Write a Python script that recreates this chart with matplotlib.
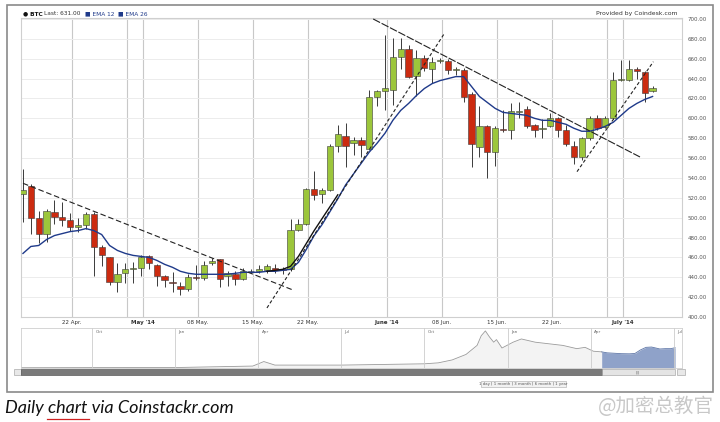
import numpy as np
import pandas as pd
import matplotlib
matplotlib.use('Agg')
import matplotlib.pyplot as plt
from matplotlib.patches import Rectangle

# daily BTC candles, 16 Apr 2014 .. 5 Jul 2014
start = pd.Timestamp('2014-04-16')
opens = [524, 532, 500, 484, 506, 501, 498, 491, 493, 504, 470, 460, 435, 444, 448, 449, 461, 452, 441, 435,
         431, 428, 440, 439, 454, 458, 441, 443, 438, 446, 446, 447, 449, 448, 448, 488, 494, 529, 524, 528,
         572, 582, 575, 578, 569, 621, 628, 629, 662, 670, 643, 661, 650, 658, 658, 649, 649, 624, 571, 592,
         566, 589, 588, 606, 609, 593, 589, 592, 600, 588, 572, 561, 580, 600, 591, 600, 639, 639, 650, 647, 628]
highs = [549, 534, 507, 509, 518, 516, 505, 500, 506, 506, 472, 460, 454, 454, 455, 462, 462, 453, 442, 445,
         435, 443, 452, 456, 459, 458, 446, 446, 449, 448, 452, 453, 453, 450, 499, 499, 530, 547, 530, 574,
         593, 595, 581, 581, 629, 629, 684, 681, 681, 674, 669, 664, 662, 661, 660, 652, 651, 627, 612, 593,
         592, 608, 615, 616, 612, 594, 599, 605, 601, 593, 577, 581, 602, 603, 602, 647, 659, 659, 652, 648, 633]
lows = [496, 484, 474, 476, 494, 492, 487, 486, 489, 441, 451, 432, 425, 434, 434, 441, 448, 431, 430, 425,
        422, 426, 437, 437, 452, 430, 431, 432, 437, 444, 444, 444, 444, 443, 446, 487, 493, 518, 515, 527,
        566, 551, 563, 561, 568, 612, 608, 613, 650, 641, 622, 648, 636, 656, 645, 644, 616, 551, 561, 540,
        552, 586, 579, 600, 590, 581, 580, 591, 581, 572, 554, 558, 578, 588, 590, 599, 638, 638, 640, 616, 627]
closes = [528, 500, 484, 507, 501, 498, 491, 493, 504, 470, 462, 435, 443, 448, 449, 460, 454, 441, 437, 434,
          428, 440, 439, 452, 456, 438, 444, 438, 446, 446.5, 448, 451, 447, 447.5, 488, 494, 529, 523, 528, 572,
          584, 572, 578, 573, 621, 628, 631, 662, 670, 642, 661, 651, 657, 659, 649, 650, 621, 574, 592, 566,
          590, 588, 607, 607, 592, 588, 589, 600, 588, 574, 561, 580, 600, 590, 600, 639, 640, 650, 648, 626, 631]
ema12 = [464, 471, 472, 478, 482, 484, 486, 487, 489, 487, 483, 472, 467, 464, 462, 461, 460, 457, 453, 450,
         446, 444, 443, 443, 443, 443, 443, 444, 445, 445, 445, 446, 446, 447, 448, 455, 468, 482, 493, 506,
         519, 533, 544, 555, 566, 575, 585, 598, 608, 615, 623, 630, 635, 638, 640, 642, 642, 632, 622, 616,
         610, 606, 605, 604, 603, 600, 598, 598, 596, 594, 590, 587, 587, 589, 592, 596, 603, 610, 615, 619, 622]
ema26_idx = [31, 32, 33, 34, 35, 36, 37, 38, 39, 40]
ema26 = [446, 447, 448, 451, 461, 474, 487, 499, 511, 523]

price_ticks = list(range(400, 701, 20))
grid_dates = ['2014-04-22', '2014-04-29', '2014-05-01', '2014-05-08', '2014-05-15', '2014-05-22',
              '2014-06-01', '2014-06-08', '2014-06-15', '2014-06-22', '2014-06-29', '2014-07-01']
grid_labels = ['22 Apr.', '', "May '14", '08 May.', '15 May.', '22 May.',
               "June '14", '08 Jun.', '15 Jun.', '22 Jun.', '', "July '14"]

# hand drawn trend lines: (day0, price0, day1, price1)
trend_lines = [(0, 534.6, 34.3, 427.2), (31.0, 409.1, 53.5, 684.9),
               (44.5, 700.0, 78.4, 561.1), (70.4, 546.3, 80.1, 657.0)]
trend_dash = [(5, 2.5), (3, 2), (7, 1.5), (3, 2)]

# navigator, months since Jul 2012
nav_month = [0.4, 3, 6, 8.8, 9.2, 9.6, 12, 15, 15.5, 16.0, 16.5, 16.9, 17.05, 17.2, 17.35, 17.5, 17.6, 17.8,
             18.2, 18.5, 19.0, 19.5, 20.0, 20.5, 20.8, 21.1, 21.4, 21.6, 21.9, 22.1, 22.4, 22.6, 22.8, 23.0,
             23.2, 23.5, 23.7, 23.9, 24.05]
nav_price = [8, 12, 14, 60, 200, 90, 90, 130, 160, 250, 420, 700, 1000, 1150, 960, 800, 880, 620,
             800, 900, 800, 750, 700, 600, 640, 520, 500, 470, 455, 445, 440, 450, 560, 640,
             650, 590, 600, 600, 630]
nav_ticks = [3, 6, 9, 12, 15, 18, 21, 24]
nav_labels = ['Oct', 'Jan', 'Apr', 'Jul', 'Oct', 'Jan', 'Apr', 'Jul']
sel_start, sel_end = 21.4, 24.05

green = '#9cc63b'
red = '#cc2b10'
W, H = 720, 422

fig = plt.figure(figsize=(W / 100, H / 100), dpi=100)

# page chrome in pixel coordinates
bg = fig.add_axes([0, 0, 1, 1])
bg.set_xlim(0, W)
bg.set_ylim(H, 0)
bg.axis('off')
bg.add_patch(Rectangle((7, 5), 706, 387, fill=False, ec='#8a8a8a', lw=1.2))
bg.add_patch(Rectangle((14, 369), 7, 6, fc='#e8e8e8', ec='#999999', lw=0.4))
bg.add_patch(Rectangle((21, 369), 581, 6, fc='#7a7a7a', ec='#444444', lw=0.4))
bg.add_patch(Rectangle((602, 369), 73, 6, fc='#e4e4e4', ec='#999999', lw=0.4))
bg.add_patch(Rectangle((677, 369), 8, 6, fc='#e8e8e8', ec='#999999', lw=0.4))
bg.text(638, 372.3, '|||', fontsize=3, color='#666666', ha='center', va='center')
bg.add_patch(Rectangle((481, 381), 85, 6, fc='#f2f2f2', ec='#aaaaaa', lw=0.4))
bg.text(523, 384, '1 day | 1 month | 3 month | 6 month | 1 year', fontsize=2.8, color='#555555',
        ha='center', va='center')

fig.text(23 / W, 1 - 13.5 / H, '● BTC', fontsize=4.2, fontweight='bold', color='#111111', va='center')
fig.text(44 / W, 1 - 13.5 / H, 'Last: 631.00', fontsize=4.2, color='#333333', va='center')
fig.text(85 / W, 1 - 13.5 / H, '■ EMA 12', fontsize=4.2, color='#1f3a8a', va='center')
fig.text(118 / W, 1 - 13.5 / H, '■ EMA 26', fontsize=4.2, color='#1f3a8a', va='center')
fig.text(678 / W, 1 - 13.5 / H, 'Provided by Coindesk.com', fontsize=4.4, color='#333333', va='center', ha='right')

# main candle chart
ax = fig.add_axes([20.7 / W, 1 - 317 / H, 661.3 / W, 299 / H])
x = np.arange(len(closes))
o = np.array(opens, dtype=float)
c = np.array(closes, dtype=float)
up = c >= o
ax.vlines(x, lows, highs, color='#3a3a3a', lw=0.7, zorder=3)
ax.bar(x, np.maximum(np.abs(c - o), 0.8), bottom=np.minimum(o, c), width=0.8,
       color=np.where(up, green, red), edgecolor='#3a3a3a', linewidth=0.4, zorder=4)
ax.plot(x, ema12, color='#1f3a8a', lw=1.0, zorder=5)
ax.plot(ema26_idx, ema26, color='#111111', lw=1.0, zorder=5)
for (a0, p0, a1, p1), dash in zip(trend_lines, trend_dash):
    ax.plot([a0, a1], [p0, p1], color='#222222', lw=0.8, dashes=dash, zorder=6)

grid_pos = [(pd.Timestamp(d) - start).days + 0.2 for d in grid_dates]
ax.set_xticks(grid_pos, grid_labels)
for lbl, txt in zip(ax.get_xticklabels(), grid_labels):
    if "'" in txt:
        lbl.set_fontweight('bold')
ax.tick_params(axis='x', length=0, labelsize=4, colors='#333333', pad=2.5)
ax.grid(axis='x', color='#c8c8c8', lw=0.8)
ax.set_yticks(price_ticks, [f'{p:.2f}' for p in price_ticks])
ax.yaxis.tick_right()
ax.tick_params(axis='y', length=0, labelsize=4, colors='#555555', pad=4)
ax.grid(axis='y', color='#ececec', lw=0.7)
ax.set_axisbelow(True)
ax.set_xlim(-0.29, 83.74)
ax.set_ylim(400, 701)
for s in ax.spines.values():
    s.set_color('#cfcfcf')
    s.set_linewidth(0.8)

# navigator
nav = fig.add_axes([20.7 / W, 1 - 368 / H, 661.3 / W, 40 / H])
nm = np.array(nav_month)
npr = np.array(nav_price)
nav.fill_between(nm, npr, color='#f3f3f3', lw=0)
nav.plot(nm[nm <= sel_start], npr[nm <= sel_start], color='#9a9a9a', lw=0.6)
sel = nm >= sel_start
nav.fill_between(nm[sel], npr[sel], color='#8fa2c9', lw=0)
nav.plot(nm[sel], npr[sel], color='#5f77a8', lw=0.6)
for t, lab in zip(nav_ticks, nav_labels):
    nav.axvline(t, color='#cccccc', lw=0.6)
    nav.text(t + 0.12, 1120, lab, fontsize=3, color='#666666', va='center')
nav.set_xlim(0.42, 24.3)
nav.set_ylim(0, 1240)
nav.set_xticks([])
nav.set_yticks([])
for s in nav.spines.values():
    s.set_color('#cfcfcf')
    s.set_linewidth(0.6)

# caption and watermark
fig.text(5 / W, 1 - 408 / H, 'Daily chart via Coinstackr.com', fontsize=13, style='italic',
         family=['Lato', 'DejaVu Sans'], color='#111111', va='center')
bg.plot([47, 89], [419, 419], color='#d02020', lw=0.9)
fig.text(714 / W, 1 - 406 / H, '@加密总教官', fontsize=14, color='#c8c8c8',
         family=['Noto Sans CJK SC', 'DejaVu Sans'], va='center', ha='right')

fig.savefig('out.png', dpi=100, facecolor='white')
